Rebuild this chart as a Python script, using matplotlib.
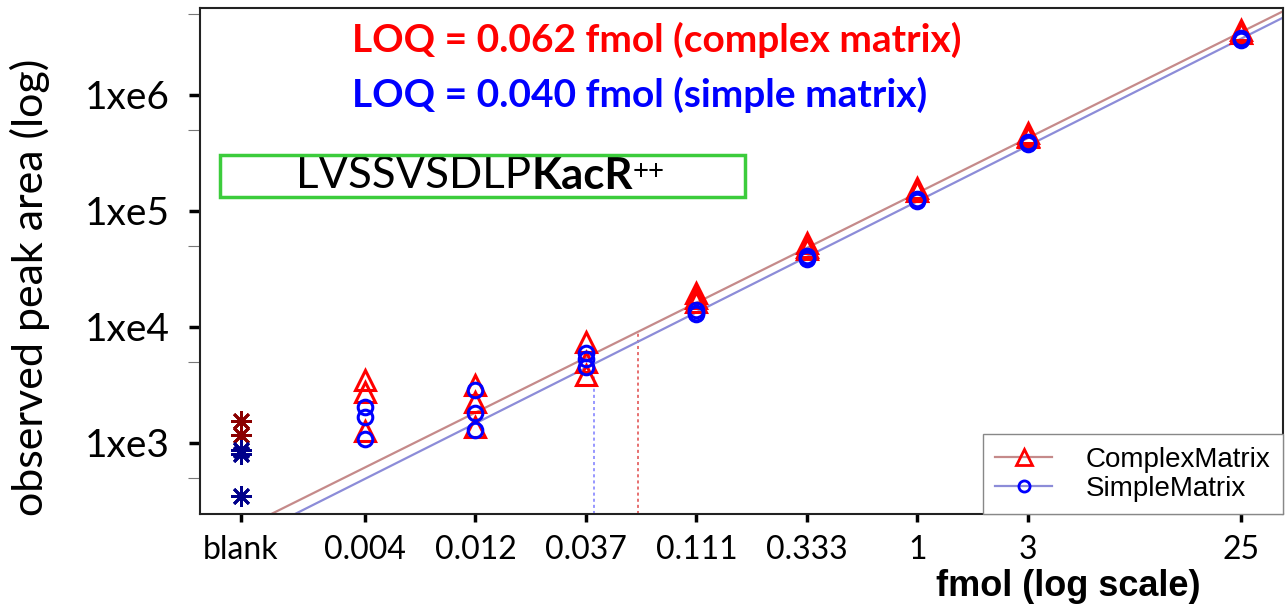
import numpy as np
import matplotlib.pyplot as plt
from matplotlib.lines import Line2D
from matplotlib.patches import Rectangle
from matplotlib.ticker import NullLocator, FixedLocator

plt.rcParams['font.family'] = ['Lato', 'DejaVu Sans']

#%% values

conc = [1/243, 1/81, 1/27, 1/9, 1/3, 1, 3, 25]  # fmol, 3-fold dilution series
conc_labels = ['0.004', '0.012', '0.037', '0.111', '0.333', '1', '3', '25']
blank_x = 0.0012  # where "blank" sits on the log axis

# three replicates per level
complex_area = [[3490, 2750, 1270], [3160, 2255, 1374], [7430, 3855, 5000],
                [19600, 17780, 16500], [52900, 49000, 47000],
                [157800, 150000, 148000], [470000, 440000, 430000],
                [3.6e6, 3.45e6, 3.4e6]]
simple_area = [[2040, 1675, 1082], [2865, 1815, 1295], [5970, 5300, 4520],
               [14000, 13200, 13000], [39400, 41000, 38500],
               [126800, 124000, 122000], [393000, 380000, 385000],
               [2.98e6, 3.05e6, 3.1e6]]

blank_complex = [1549, 1172]
blank_simple = [870, 804, 349]

# log10(area) = a + b*log10(fmol)
complex_fit = (5.155, 0.992)
simple_fit = (5.083, 1.003)

loq_complex = 0.062
loq_simple = 0.040

xlims = (0.000798, 37.9)
ylims = (244, 5.62e6)

#%% plot

fig = plt.figure(figsize=(12.85, 6.06), dpi=100)
ax = fig.add_axes([0.1556, 0.1518, 0.8428, 0.835])
ax.set_xscale('log')
ax.set_yscale('log')

red_line = '#c58a8a'
blue_line = '#8c8cd8'

xx = np.array(xlims)
ax.plot(xx, 10**(complex_fit[0] + complex_fit[1]*np.log10(xx)), color=red_line, lw=1.6, zorder=2)
ax.plot(xx, 10**(simple_fit[0] + simple_fit[1]*np.log10(xx)), color=blue_line, lw=1.6, zorder=2)

# LOQ drop lines
for loq, fit, c in [(loq_simple, simple_fit, '#7a7aff'), (loq_complex, complex_fit, '#e04848')]:
    ax.vlines(loq, ylims[0], 10**(fit[0] + fit[1]*np.log10(loq)), colors=c,
              linestyles=(0, (2, 2)), lw=1.1, zorder=1)

for i, x in enumerate(conc):
    ax.plot([x]*len(complex_area[i]), complex_area[i], ls='none', marker='^', ms=14,
            mfc='none', mec='red', mew=2.2, zorder=3)
    ax.plot([x]*len(simple_area[i]), simple_area[i], ls='none', marker='o', ms=10.5,
            mfc='none', mec='blue', mew=2.2, zorder=3)

ax.plot([blank_x]*len(blank_complex), blank_complex, ls='none', marker=(8, 2, 0),
        ms=15, mec='#8b0000', mew=2, zorder=3)
ax.plot([blank_x]*len(blank_simple), blank_simple, ls='none', marker=(8, 2, 0),
        ms=15, mec='#00008b', mew=2, zorder=3)

ax.set_xlim(xlims)
ax.set_ylim(ylims)

ax.xaxis.set_major_locator(FixedLocator([blank_x] + conc))
ax.set_xticklabels(['blank'] + conc_labels)
ax.xaxis.set_minor_locator(NullLocator())
ax.yaxis.set_major_locator(FixedLocator([1e3, 1e4, 1e5, 1e6]))
ax.set_yticklabels(['1xe3', '1xe4', '1xe5', '1xe6'])
ax.yaxis.set_minor_locator(FixedLocator([5e2, 5e3, 5e4, 5e5, 5e6]))
ax.yaxis.set_minor_formatter(plt.NullFormatter())

ax.tick_params(axis='x', which='major', direction='out', length=6, width=2.5, labelsize=23, pad=9)
ax.tick_params(axis='y', which='major', direction='out', length=8, width=2.5, labelsize=28, pad=14)
ax.tick_params(axis='y', which='minor', direction='out', length=9, width=0.8, color='#777777')
for s in ax.spines.values():
    s.set_linewidth(1.5)
    s.set_color('#222222')

fig.text(0.0233, 0.525, 'observed peak area (log)', rotation=90, ha='center', va='center', fontsize=31)
fig.text(0.831, 0.033, 'fmol (log scale)', ha='center', va='center', fontsize=26,
         family='Liberation Sans', weight='bold')

ax.text(0.1404, 0.937, 'LOQ = 0.062 fmol (complex matrix)', transform=ax.transAxes,
        color='red', weight='bold', fontsize=28, va='center', ha='left')
ax.text(0.1404, 0.828, 'LOQ = 0.040 fmol (simple matrix)', transform=ax.transAxes,
        color='blue', weight='bold', fontsize=28, va='center', ha='left')

# peptide label in the green box
ax.add_patch(Rectangle((0.0185, 0.6265), 0.4845, 0.083, transform=ax.transAxes,
                       fill=False, ec='#3ccc3c', lw=2.5, zorder=4))
t1 = ax.text(0.0886, 0.668, 'LVSSVSDLP', transform=ax.transAxes,
             fontsize=31.5, va='center', ha='left')
t2 = ax.annotate('KacR', xy=(1, 0), xycoords=t1, va='bottom', ha='left',
                 fontsize=31.5, weight='bold')
ax.annotate('++', xy=(1, 0.93), xycoords=t2, va='top', ha='left', fontsize=20)

handles = [Line2D([], [], color=red_line, lw=1.6, marker='^', ms=11, mfc='none', mec='red', mew=2),
           Line2D([], [], color=blue_line, lw=1.6, marker='o', ms=8, mfc='none', mec='blue', mew=2)]
leg = ax.legend(handles, ['ComplexMatrix', 'SimpleMatrix'], loc='lower right', borderaxespad=0,
                fancybox=False, edgecolor='#888888', framealpha=1, handlelength=2.05,
                prop={'family': 'Liberation Sans', 'size': 20}, labelspacing=0.1,
                borderpad=0.45, handletextpad=1.2)
leg.get_frame().set_linewidth(1.0)

fig.savefig('out.png', dpi=100)
